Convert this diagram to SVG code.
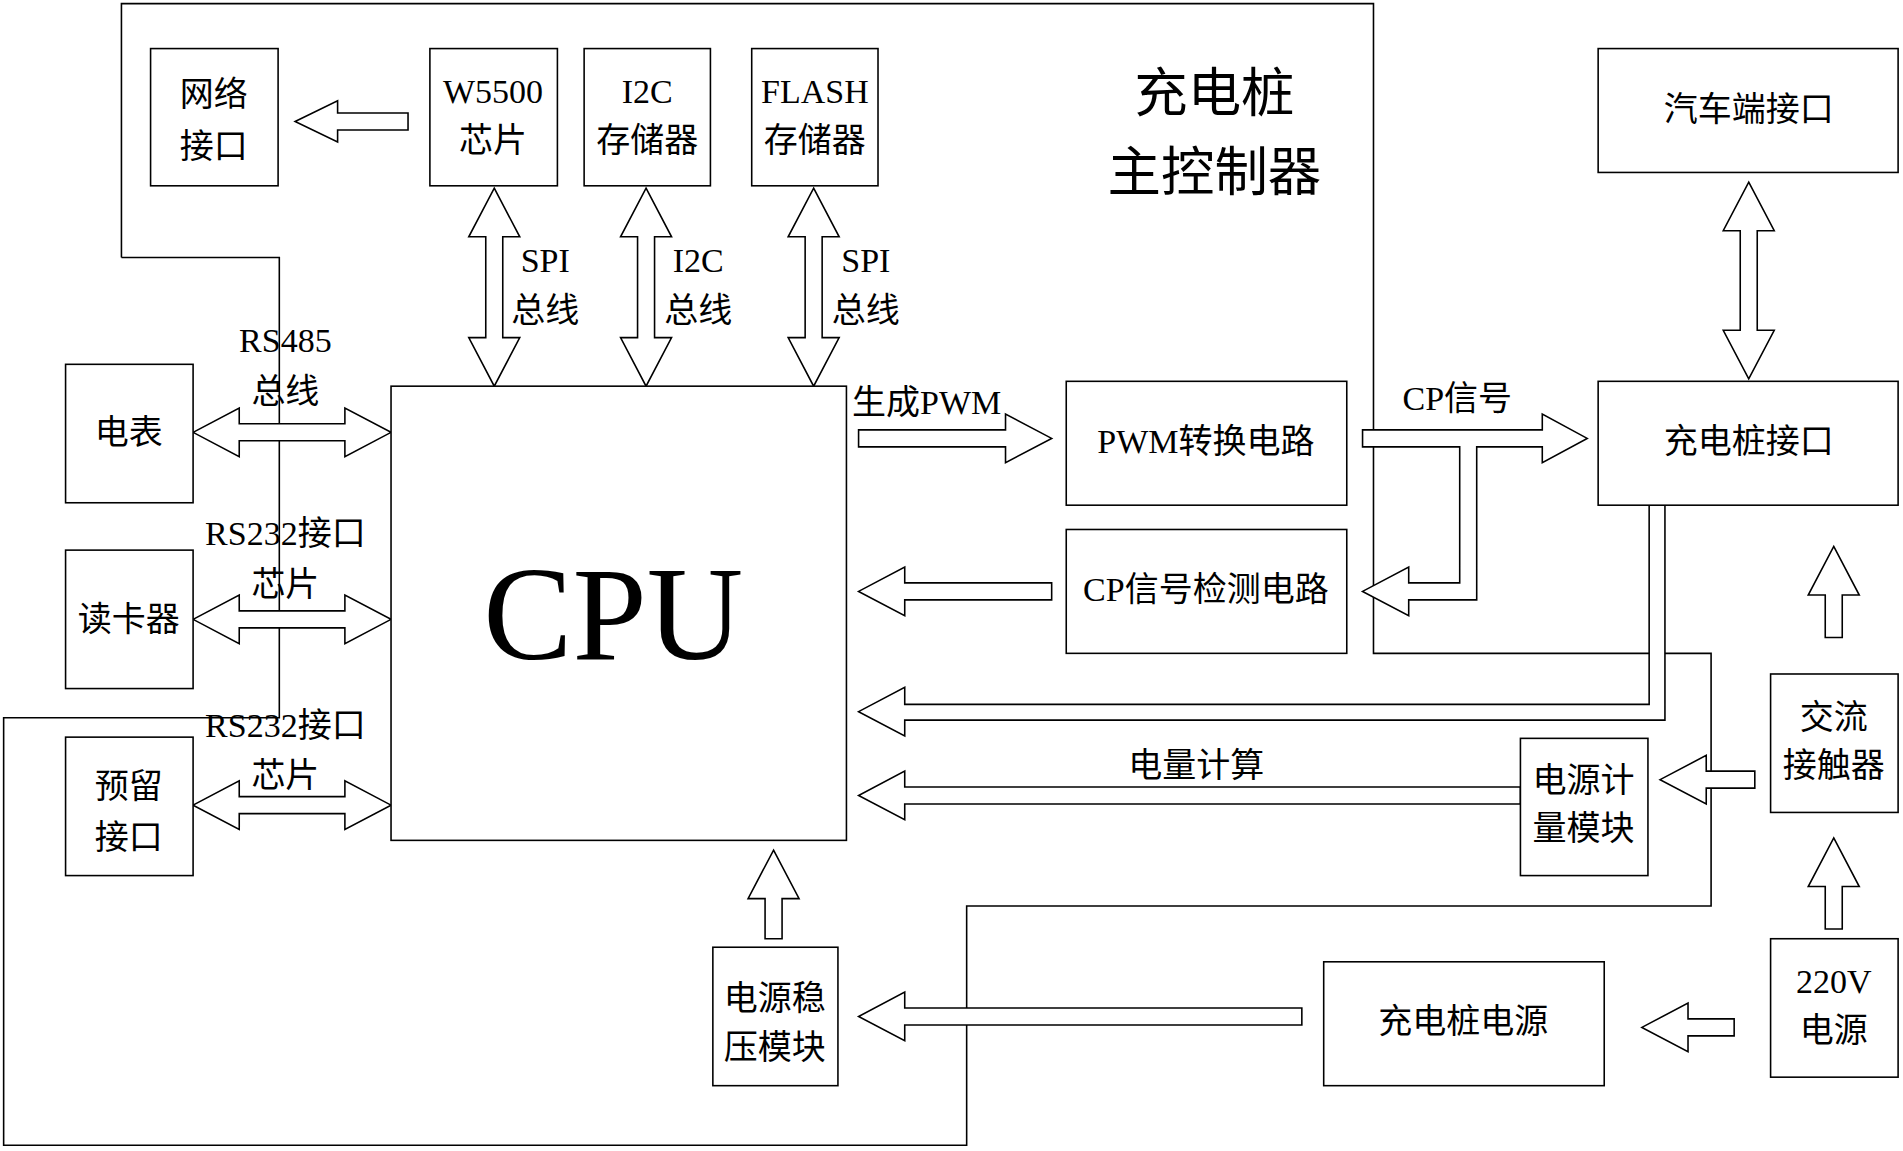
<svg xmlns="http://www.w3.org/2000/svg" width="1903" height="1151" viewBox="0 0 1903 1151">
<style>
.b{fill:#fff;stroke:#000;stroke-width:1.3}
.a{fill:#fff;stroke:#000;stroke-width:1.3}
text{font-family:"Liberation Serif","Noto Sans CJK SC",serif;font-size:28px;text-anchor:middle;fill:#000}
</style>
<rect width="1903" height="1151" fill="#fff"/>
<g transform="scale(1.2144)">
<polyline fill="none" stroke="#000" stroke-width="1.3" points="100,212 230,212 230,591 3,591 3,943 796,943 796,746 1409,746 1409,538 1131,538 1131,3 100,3 100,212"/>
<g id="connectors">
<polygon class="a" points="243,100 278,83 278,93 336,93 336,107 278,107 278,117"/>
<polygon class="a" points="407,155 428,195 414,195 414,278 428,278 407,318 386,278 400,278 400,195 386,195"/>
<polygon class="a" points="532,155 553,195 539,195 539,278 553,278 532,318 511,278 525,278 525,195 511,195"/>
<polygon class="a" points="670,155 691,195 677,195 677,278 691,278 670,318 649,278 663,278 663,195 649,195"/>
<polygon class="a" points="1440,150 1461,190 1447,190 1447,272 1461,272 1440,312 1419,272 1433,272 1433,190 1419,190"/>
<polygon class="a" points="159,356 197,336 197,349 284,349 284,336 322,356 284,376 284,363 197,363 197,376"/>
<polygon class="a" points="159,510 197,490 197,503 284,503 284,490 322,510 284,530 284,517 197,517 197,530"/>
<polygon class="a" points="159,663 197,643 197,656 284,656 284,643 322,663 284,683 284,670 197,670 197,683"/>
<polygon class="a" points="707,354 828,354 828,341 866,361 828,381 828,368 707,368"/>
<polygon class="a" points="866,480 745,480 745,467 707,487 745,507 745,494 866,494"/>
<polygon class="a" points="1122,354 1270,354 1270,341 1307,361 1270,381 1270,368 1216,368 1216,494 1160,494 1160,507 1122,487 1160,467 1160,480 1202,480 1202,368 1122,368"/>
<polygon class="a" points="1371,416 1371,593 745,593 745,606 707,586 745,566 745,580 1358,580 1358,416"/>
<polygon class="a" points="1252,648 745,648 745,635 707,655 745,675 745,662 1252,662"/>
<polygon class="a" points="637,700 658,740 644,740 644,773 630,773 630,740 616,740"/>
<polygon class="a" points="1072,830 745,830 745,817 707,837 745,857 745,844 1072,844"/>
<polygon class="a" points="1428,839 1390,839 1390,826 1352,846 1390,866 1390,853 1428,853"/>
<polygon class="a" points="1510,690 1531,730 1517,730 1517,765 1503,765 1503,730 1489,730"/>
<polygon class="a" points="1510,450 1531,490 1517,490 1517,525 1503,525 1503,490 1489,490"/>
<polygon class="a" points="1445,635 1405,635 1405,622 1367,642 1405,662 1405,649 1445,649"/>
</g>
<g id="n1"><rect class="b" x="124" y="40" width="105" height="113"/><text x="176" y="87">网络</text><text x="176" y="130">接口</text></g>
<g id="n2"><rect class="b" x="354" y="40" width="105" height="113"/><text x="406" y="85">W5500</text><text x="406" y="125">芯片</text></g>
<g id="n3"><rect class="b" x="481" y="40" width="104" height="113"/><text x="533" y="85">I2C</text><text x="533" y="125">存储器</text></g>
<g id="n4"><rect class="b" x="619" y="40" width="104" height="113"/><text x="671" y="85">FLASH</text><text x="671" y="125">存储器</text></g>
<g id="n5"><rect class="b" x="1316" y="40" width="247" height="102"/><text x="1440" y="100">汽车端接口</text></g>
<g id="n6"><rect class="b" x="54" y="300" width="105" height="114"/><text x="106" y="366">电表</text></g>
<g id="n7"><rect class="b" x="54" y="453" width="105" height="114"/><text x="106" y="520">读卡器</text></g>
<g id="n8"><rect class="b" x="54" y="607" width="105" height="114"/><text x="106" y="657">预留</text><text x="106" y="699">接口</text></g>
<g id="cpu"><rect class="b" x="322" y="318" width="375" height="374"/><text x="505" y="543" style="font-size:110px">CPU</text></g>
<g id="n9"><rect class="b" x="878" y="314" width="231" height="102"/><text x="993" y="373">PWM转换电路</text></g>
<g id="n10"><rect class="b" x="878" y="436" width="231" height="102"/><text x="993" y="495">CP信号检测电路</text></g>
<g id="n11"><rect class="b" x="1316" y="314" width="247" height="102"/><text x="1440" y="373">充电桩接口</text></g>
<g id="n12"><rect class="b" x="1458" y="555" width="105" height="114"/><text x="1510" y="600">交流</text><text x="1510" y="640">接触器</text></g>
<g id="n13"><rect class="b" x="1252" y="608" width="105" height="113"/><text x="1304" y="652">电源计</text><text x="1304" y="692">量模块</text></g>
<g id="n14"><rect class="b" x="1458" y="773" width="105" height="114"/><text x="1510" y="818">220V</text><text x="1510" y="858">电源</text></g>
<g id="n15"><rect class="b" x="1090" y="792" width="231" height="102"/><text x="1205" y="851">充电桩电源</text></g>
<g id="n16"><rect class="b" x="587" y="780" width="103" height="114"/><text x="638" y="832">电源稳</text><text x="638" y="872">压模块</text></g>
<g id="labels">
<text x="1000" y="92" style="font-size:44px">充电桩</text>
<text x="1000" y="157" style="font-size:44px">主控制器</text>
<text x="449" y="224">SPI</text><text x="449" y="265">总线</text>
<text x="575" y="224">I2C</text><text x="575" y="265">总线</text>
<text x="713" y="224">SPI</text><text x="713" y="265">总线</text>
<text x="235" y="290">RS485</text><text x="235" y="332">总线</text>
<text x="235" y="449">RS232接口</text><text x="235" y="491">芯片</text>
<text x="235" y="607">RS232接口</text><text x="235" y="648">芯片</text>
<text x="763" y="341">生成PWM</text>
<text x="1200" y="338">CP信号</text>
<text x="985" y="640">电量计算</text>
</g>
</g>
</svg>
